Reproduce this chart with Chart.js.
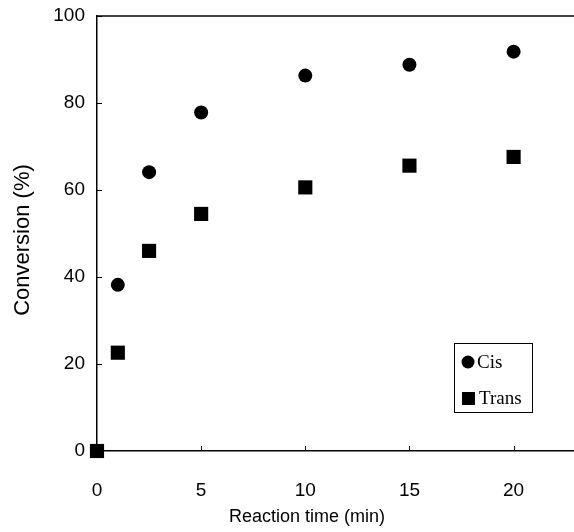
<!DOCTYPE html>
<html>
<head>
<meta charset="utf-8">
<script src="https://cdn.jsdelivr.net/npm/chart.js@4/dist/chart.umd.min.js"></script>
<style>
  html, body { margin: 0; padding: 0; background: #fff; }
  #wrap { width: 574px; height: 532px; }
</style>
</head>
<body>
<div id="wrap"><canvas id="grafica" width="574" height="532"></canvas></div>
<script>
// Datos
var tiempos = [0, 1, 2.5, 5, 10, 15, 20];
var conversionCis = [0, 38.2, 64.1, 77.8, 86.3, 88.8, 91.8];
var conversionTrans = [0, 22.6, 46, 54.5, 60.6, 65.6, 67.6];
var ticksX = [0, 5, 10, 15, 20];
var ticksY = [0, 20, 40, 60, 80, 100];
var tituloX = 'Reaction time (min)';
var tituloY = 'Conversion (%)';

function puntos(valores) {
    return tiempos.map(function (t, i) { return { x: t, y: valores[i] }; });
}

// Fondo blanco, borde superior, marcas hacia dentro, títulos y leyenda
var decoracion = {
    id: 'decoracion',
    beforeDraw: function (chart) {
        var ctx = chart.ctx;
        ctx.save();
        ctx.fillStyle = '#fff';
        ctx.fillRect(0, 0, chart.width, chart.height);
        ctx.restore();
    },
    afterDraw: function (chart) {
        var ctx = chart.ctx;
        var a = chart.chartArea;
        var sx = chart.scales.x, sy = chart.scales.y;
        ctx.save();
        ctx.strokeStyle = '#000';
        ctx.lineWidth = 1.5;
        ctx.beginPath();
        ctx.moveTo(a.left, a.top);
        ctx.lineTo(a.right, a.top);
        ctx.stroke();
        ctx.lineWidth = 1;
        ticksX.forEach(function (v) {
            var px = Math.round(sx.getPixelForValue(v)) + 0.5;
            ctx.beginPath();
            ctx.moveTo(px, a.bottom);
            ctx.lineTo(px, a.bottom - 5);
            ctx.stroke();
        });
        ticksY.forEach(function (v) {
            var py = Math.round(sy.getPixelForValue(v)) + 0.5;
            ctx.beginPath();
            ctx.moveTo(a.left, py);
            ctx.lineTo(a.left + 5, py);
            ctx.stroke();
        });

        // títulos de los ejes
        ctx.fillStyle = '#000';
        ctx.textAlign = 'center';
        ctx.textBaseline = 'middle';
        ctx.font = '18px "Liberation Sans", Arial, sans-serif';
        ctx.fillText(tituloX, 307, 517);
        ctx.save();
        ctx.translate(23, 240);
        ctx.rotate(-Math.PI / 2);
        ctx.font = '22px "Liberation Sans", Arial, sans-serif';
        ctx.fillText(tituloY, 0, 0);
        ctx.restore();

        // leyenda
        ctx.lineWidth = 1;
        ctx.strokeRect(454.5, 343.5, 78, 69);
        ctx.beginPath();
        ctx.arc(468, 362, 6.5, 0, Math.PI * 2);
        ctx.fill();
        ctx.fillRect(462, 392, 13, 13);
        ctx.font = '19px "Liberation Serif", "Times New Roman", serif';
        ctx.textAlign = 'left';
        ctx.fillText(chart.data.datasets[1].label, 477, 363);
        ctx.fillText(chart.data.datasets[0].label, 479, 399);
        ctx.restore();
    }
};

var ctx = document.getElementById('grafica').getContext('2d');
var myChart = new Chart(ctx, {
    type: 'scatter',
    data: {
        datasets: [{
            label: 'Trans',
            data: puntos(conversionTrans),
            pointStyle: 'rect',
            pointRadius: 10,
            pointBackgroundColor: '#000',
            pointBorderColor: '#000',
            pointBorderWidth: 0,
            clip: false
        }, {
            label: 'Cis',
            data: puntos(conversionCis),
            pointStyle: 'circle',
            pointRadius: 7,
            pointBackgroundColor: '#000',
            pointBorderColor: '#000',
            pointBorderWidth: 0,
            clip: false
        }]
    },
    options: {
        responsive: false,
        animation: false,
        layout: { autoPadding: false, padding: { top: 16, left: 0, right: 0, bottom: 0 } },
        plugins: {
            legend: { display: false },
            tooltip: { enabled: false }
        },
        scales: {
            x: {
                type: 'linear',
                position: 'bottom',
                min: 0,
                max: 22.9,
                afterBuildTicks: function (scale) {
                    scale.ticks = ticksX.map(function (v) { return { value: v }; });
                },
                afterFit: function (scale) {
                    scale.height = 81;
                    scale.paddingLeft = 0;
                    scale.paddingRight = 0;
                },
                grid: { display: false, drawTicks: false },
                border: { display: true, color: '#000', width: 1.5 },
                ticks: {
                    color: '#000',
                    padding: 28,
                    maxRotation: 0,
                    font: { family: '"Liberation Sans", Arial, sans-serif', size: 19 }
                }
            },
            y: {
                type: 'linear',
                position: 'left',
                min: 0,
                max: 100,
                afterBuildTicks: function (scale) {
                    scale.ticks = ticksY.map(function (v) { return { value: v }; });
                },
                afterFit: function (scale) {
                    scale.width = 97;
                    scale.paddingTop = 0;
                    scale.paddingBottom = 0;
                },
                grid: { display: false, drawTicks: false },
                border: { display: true, color: '#000', width: 1.5 },
                ticks: {
                    color: '#000',
                    padding: 12,
                    font: { family: '"Liberation Sans", Arial, sans-serif', size: 19 }
                }
            }
        }
    },
    plugins: [decoracion]
});
</script>
</body>
</html>
